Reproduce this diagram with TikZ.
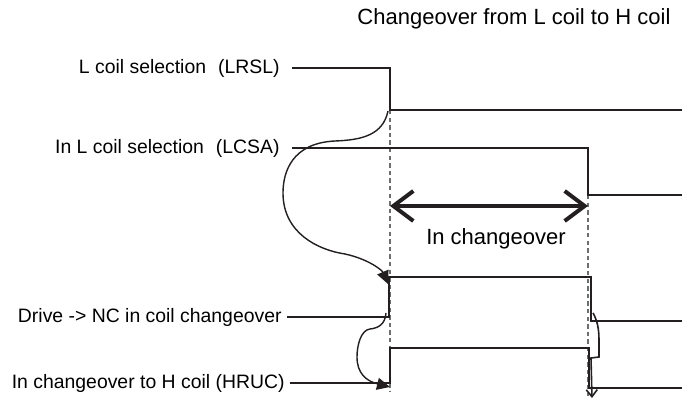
\documentclass[tikz,border=0pt]{standalone}
\usepackage{fontspec}
\setmainfont{Liberation Sans}
\usetikzlibrary{arrows.meta}
\definecolor{sigline}{HTML}{231F20}
\definecolor{guidegrey}{HTML}{6D6E71}
\tikzset{
  siglab/.style = {anchor=east, inner xsep=6pt, inner ysep=0pt,
                   font=\fontsize{9.7}{11}\selectfont},
  bigtxt/.style = {font=\fontsize{11}{13}\selectfont, inner sep=0pt},
  sig/.style    = {draw=sigline, line width=0.65pt},
  guide/.style  = {draw=guidegrey, line width=0.55pt, dash pattern=on 2.2pt off 1.6pt},
  span/.style   = {{Straight Barb[length=10pt,width=15pt]}-{Straight Barb[length=10pt,width=15pt]},
                   line width=2pt, draw=sigline},
  cause/.style  = {-{Triangle[length=6.5pt,width=6pt]}, line width=0.7pt, draw=sigline},
  lag/.style    = {-{Straight Barb[length=3.5pt,width=5.5pt]}, line width=0.8pt, draw=sigline},
}

\begin{document}
\begin{tikzpicture}[x=0.5pt,y=-0.5pt]
  \useasboundingbox (0,0) rectangle (682,401);
  \node[bigtxt] (title) at (514,19) {Changeover from L coil to H coil};

  % signal names
  \node[siglab] (lrsl) at (292,68)  {L coil selection\hspace{6pt}(LRSL)};
  \node[siglab] (lcsa) at (292,148) {In L coil selection\hspace{6pt}(LCSA)};
  \node[siglab, inner xsep=2.5pt] (drv)  at (287,317) {Drive -> NC in coil changeover};
  \node[siglab, inner xsep=2.5pt] (hruc) at (290,383) {In changeover to H coil (HRUC)};

  % switching instants
  \coordinate (tA) at (390,110);
  \coordinate (tB) at (588,195);
  \draw[guide] (tA) -- (390,392);
  \draw[guide] (tB) -- (588,396);

  % traces
  \draw[sig] (lrsl.east) -| (tA) -- (682,110);
  \draw[sig] (lcsa.east) -| (tB) -- (682,195);
  \draw[sig] (drv.east) -| (389,277) -| (591,321) -- (682,321);
  \draw[sig] (hruc.east) -| (390,348) -| (589,388) -- (682,388);

  \draw[span] (390,206) -- (588,206);
  \node[bigtxt] (chg) at (496,239) {In changeover};

  % cause arrows
  \coordinate (c1) at (388,111);
  \coordinate (c1e) at (388,284);
  \draw[cause] (c1) .. controls (383,135) and (362,140) .. (335,141)
               .. controls (292,143) and (283,172) .. (283,193)
               .. controls (283,233) and (318,250) .. (345,254)
               .. controls (368,259) and (382,270) .. (c1e);
  \coordinate (c2) at (386,313);
  \coordinate (c2e) at (390,387);
  \draw[cause] (c2) .. controls (385,325) and (378,328) .. (370,329)
               .. controls (361,330) and (357,345) .. (357,357)
               .. controls (357,373) and (366,381) .. (c2e);
  \coordinate (c3) at (593,313);
  \coordinate (c3e) at (592,398);
  \draw[lag] (c3) .. controls (597,320) and (599,328) .. (599,340)
             -- (599,357) -- (591,358) -- (c3e);
\end{tikzpicture}
\end{document}
